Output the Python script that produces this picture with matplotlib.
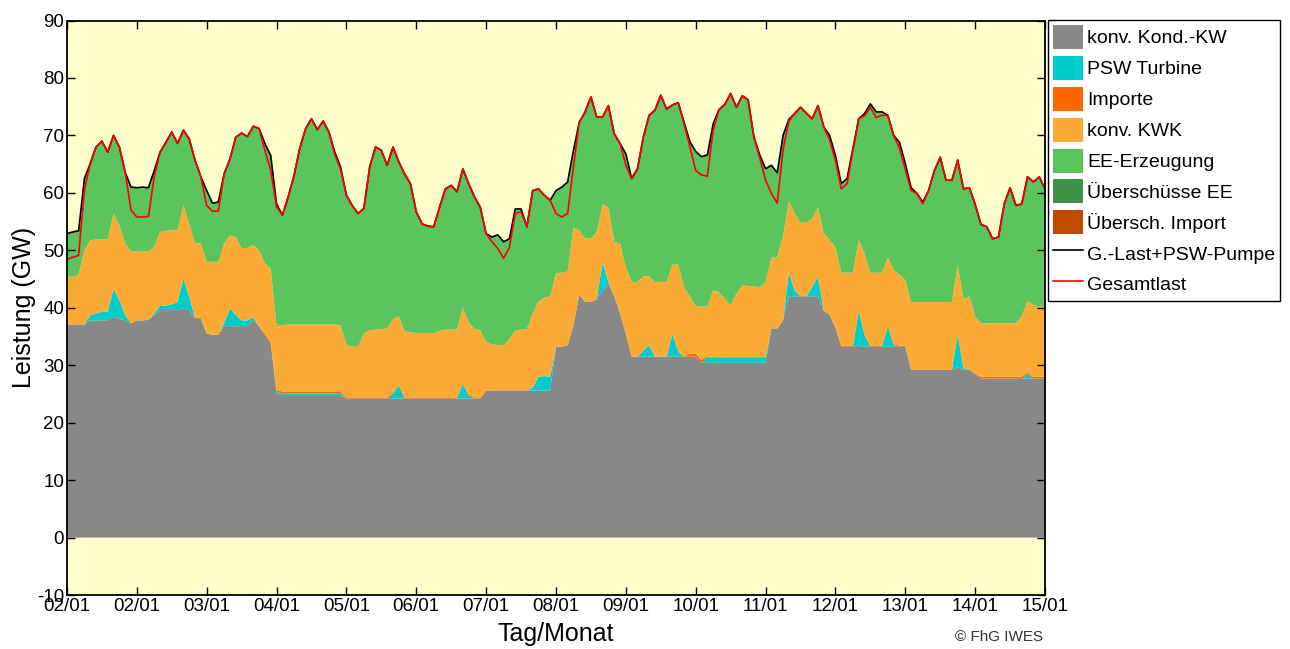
import numpy as np
import matplotlib
matplotlib.use("Agg")
from matplotlib import pyplot as plt

plt.rcParams['font.family'] = ['Liberation Sans', 'DejaVu Sans']
plt.rcParams['axes.unicode_minus'] = False

# 2-hour steps over 14 days (h = 0 .. 336)
stunden = np.arange(0, 337, 2)
tick_labels = ["02/01", "02/01", "03/01", "04/01", "05/01", "06/01", "07/01",
               "08/01", "09/01", "10/01", "11/01", "12/01", "13/01", "14/01", "15/01"]

# G.-Last+PSW-Pumpe (GW), one row per day
last_pumpe = [
    52.9, 53.2, 53.4, 62.5, 65.1, 68.0, 69.0, 67.1, 70.0, 68.0, 63.6, 61.0,
    60.9, 61.0, 60.9, 63.9, 67.1, 68.8, 70.6, 68.6, 70.9, 69.4, 65.7, 62.8,
    60.4, 58.2, 58.4, 63.3, 65.9, 69.7, 70.4, 69.8, 71.6, 71.2, 68.6, 66.5,
    58.1, 56.1, 59.3, 63.0, 67.8, 71.2, 72.9, 71.0, 72.5, 70.6, 67.1, 64.5,
    59.6, 57.8, 56.4, 57.3, 64.5, 68.0, 67.4, 64.8, 68.0, 65.4, 63.3, 61.6,
    56.7, 54.6, 54.2, 54.1, 57.5, 60.7, 61.3, 60.2, 64.2, 61.6, 59.3, 57.5,
    52.9, 52.3, 52.7, 51.5, 52.0, 57.2, 57.2, 54.1, 60.4, 60.7, 59.6, 58.7,
    60.4, 61.0, 61.9, 67.4, 72.3, 74.1, 76.7, 73.2, 73.2, 75.2, 70.3, 68.6,
    66.8, 62.5, 64.2, 69.7, 73.5, 74.4, 77.0, 74.6, 75.3, 75.7, 72.3, 68.9,
    67.2, 66.3, 66.6, 72.0, 74.5, 75.4, 77.3, 74.9, 76.9, 76.2, 69.7, 66.6,
    64.2, 64.8, 63.5, 70.0, 72.8, 73.8, 74.9, 73.9, 72.9, 75.2, 71.5, 70.0,
    66.5, 61.6, 62.5, 67.7, 72.9, 73.8, 75.5, 74.1, 74.1, 73.5, 70.0, 68.8,
    65.1, 60.9, 59.9, 58.4, 60.4, 63.9, 66.2, 62.2, 62.2, 65.7, 60.7, 60.9,
    58.0, 54.5, 54.1, 52.0, 52.3, 58.1, 60.9, 57.8, 58.1, 62.8, 61.9, 62.8,
    60.7]

# PSW pump load (GW); Gesamtlast = last_pumpe - pumpe
pumpe = [
    4.5, 4.4, 4.3, 2.0, 0, 0, 0, 0, 0, 0, 0, 4.0,
    5.1, 5.2, 5.0, 1.0, 0, 0, 0, 0, 0, 0, 0, 0,
    2.6, 1.4, 1.6, 0, 0, 0, 0, 0, 0, 0, 1.2, 2.6,
    0.5, 0, 0, 0, 0, 0, 0, 0, 0, 0, 0.4, 0.4,
    0, 0, 0, 0, 0, 0, 0, 0, 0, 0, 0, 0,
    0, 0, 0, 0, 0, 0, 0, 0, 0, 0, 0, 0,
    0, 0.8, 2.4, 2.9, 1.5, 0.8, 0.5, 0, 0, 0, 0, 0,
    4.0, 5.2, 5.5, 2.9, 0, 0, 0, 0, 0, 0, 0, 0,
    2.0, 0, 0, 0, 0, 0, 0, 0, 0, 0, 0.3, 0.9,
    3.3, 3.2, 3.7, 1.1, 0, 0, 0, 0, 0, 0, 0, 0.5,
    2.0, 4.9, 5.3, 2.5, 0.3, 0, 0, 0, 0, 0, 0, 0.8,
    0.8, 0.9, 0.9, 0.3, 0, 0.4, 0.6, 1.0, 0.6, 0, 0, 1.0,
    1.0, 0.5, 0, 0.3, 0, 0, 0, 0, 0, 0, 0, 0,
    0, 0, 0, 0, 0, 0, 0, 0, 0, 0, 0, 0,
    0]

kond = [
    37.1, 37.1, 37.1, 37.1, 37.8, 37.8, 37.8, 37.8, 38.4, 38.1, 37.8, 37.3,
    37.8, 37.8, 37.9, 38.7, 39.6, 39.6, 39.6, 39.6, 39.9, 39.6, 38.2, 38.2,
    35.5, 35.3, 35.3, 36.8, 36.8, 36.8, 36.8, 36.8, 37.9, 36.8, 35.2, 33.8,
    25.1, 24.8, 24.8, 24.8, 24.8, 24.8, 24.8, 24.8, 24.8, 24.8, 24.8, 24.8,
    24.2, 24.2, 24.2, 24.2, 24.2, 24.2, 24.2, 24.2, 24.2, 24.2, 24.2, 24.2,
    24.2, 24.2, 24.2, 24.2, 24.2, 24.2, 24.2, 24.2, 24.2, 24.2, 24.2, 24.2,
    25.6, 25.6, 25.6, 25.6, 25.6, 25.6, 25.6, 25.6, 25.6, 25.6, 25.6, 25.6,
    33.2, 33.2, 33.5, 37.0, 42.3, 41.0, 41.0, 41.5, 43.0, 44.2, 42.0, 39.0,
    35.5, 31.5, 31.5, 31.5, 31.5, 31.5, 31.5, 31.5, 31.5, 31.5, 31.5, 31.5,
    31.5, 30.4, 30.4, 30.4, 30.4, 30.4, 30.4, 30.4, 30.4, 30.4, 30.4, 30.4,
    30.4, 36.4, 36.4, 37.8, 42.0, 42.0, 42.0, 42.0, 42.0, 42.0, 39.5, 38.8,
    36.5, 33.2, 33.2, 33.2, 33.4, 33.2, 33.2, 33.2, 33.2, 33.2, 33.2, 33.2,
    33.2, 29.2, 29.2, 29.2, 29.2, 29.2, 29.2, 29.2, 29.2, 29.6, 29.2, 29.2,
    28.5, 27.7, 27.7, 27.7, 27.7, 27.7, 27.7, 27.7, 27.7, 27.7, 27.7, 27.7,
    27.7]

psw_turbine = [
    0, 0, 0, 0, 0.9, 1.2, 1.5, 1.5, 4.9, 3.2, 0.9, 0,
    0, 0, 0, 0.3, 0.7, 0.8, 1.0, 1.4, 5.2, 2.3, 0, 0,
    0, 0, 0, 0.5, 3.1, 1.9, 1.0, 1.0, 0.4, 0, 0, 0,
    0.3, 0.3, 0.3, 0.3, 0.3, 0.3, 0.3, 0.3, 0.3, 0.3, 0.3, 0.3,
    0, 0, 0, 0, 0, 0, 0, 0, 0.8, 2.2, 0, 0,
    0, 0, 0, 0, 0, 0, 0, 0, 2.5, 0.5, 0, 0,
    0, 0, 0, 0, 0, 0, 0, 0, 0.5, 2.4, 2.5, 2.4,
    0, 0, 0, 0, 0, 0, 0, 0, 4.9, 0.3, 0, 0,
    0, 0, 0, 1.0, 2.0, 0, 0, 0, 4.0, 0.8, 0, 0,
    0, 0, 0.9, 0.9, 0.9, 0.9, 0.9, 0.9, 0.9, 0.9, 0.9, 0.9,
    0.9, 0, 0, 0, 4.1, 1.0, 0, 0, 1.6, 3.4, 0, 0,
    0, 0, 0, 0, 6.0, 2.0, 0, 0, 0, 3.5, 0.3, 0,
    0, 0, 0, 0, 0, 0, 0, 0, 0, 5.7, 0.3, 0,
    0, 0, 0, 0, 0, 0, 0, 0, 0, 0.7, 0, 0,
    0]

importe = [
    0, 0, 0, 0, 0, 0, 0, 0, 0, 0, 0, 0,
    0, 0, 0, 0, 0, 0, 0, 0, 0, 0, 0, 0,
    0, 0, 0, 0, 0, 0, 0, 0, 0, 0, 0.3, 0.3,
    0.3, 0.3, 0.3, 0.3, 0.3, 0.3, 0.3, 0.3, 0.3, 0.3, 0.3, 0.3,
    0.2, 0.2, 0.2, 0.2, 0.2, 0.2, 0.2, 0.2, 0.2, 0.2, 0.2, 0.2,
    0.2, 0.2, 0.2, 0.2, 0.2, 0.2, 0.2, 0.2, 0.2, 0.2, 0.2, 0.2,
    0, 0, 0, 0, 0, 0, 0, 0, 0, 0, 0, 0,
    0, 0, 0, 0, 0, 0, 0, 0, 0, 0, 0, 0,
    0, 0, 0, 0, 0, 0, 0, 0, 0, 0, 0, 0.5,
    0.5, 0.5, 0.2, 0.2, 0.2, 0.2, 0.2, 0.2, 0.2, 0.2, 0.2, 0.2,
    0.2, 0, 0, 0, 0, 0, 0, 0, 0, 0, 0, 0,
    0.2, 0.2, 0.2, 0.2, 0.2, 0.2, 0.2, 0.2, 0.2, 0.2, 0.2, 0.2,
    0.2, 0, 0, 0, 0, 0, 0, 0, 0, 0, 0, 0,
    0, 0.3, 0.3, 0.3, 0.3, 0.3, 0.3, 0.3, 0.3, 0.3, 0.3, 0.3,
    0.3]

# upper edge of the konv. KWK band (GW)
kwk_oben = [
    45.4, 45.4, 45.7, 50.0, 51.7, 51.9, 51.9, 51.9, 56.4, 54.4, 51.2, 49.8,
    49.8, 49.8, 49.8, 50.6, 53.2, 53.4, 53.5, 53.5, 57.8, 54.6, 51.2, 51.2,
    48.0, 48.0, 48.0, 51.2, 52.6, 52.3, 50.4, 50.4, 50.9, 50.0, 47.7, 46.8,
    37.0, 37.0, 37.1, 37.1, 37.1, 37.1, 37.1, 37.1, 37.1, 37.1, 37.1, 36.9,
    33.6, 33.2, 33.2, 35.5, 36.1, 36.2, 36.3, 36.4, 38.0, 38.5, 35.9, 35.7,
    35.6, 35.6, 35.6, 35.6, 36.0, 36.2, 36.2, 36.2, 40.0, 37.5, 36.3, 36.1,
    34.0, 33.6, 33.5, 33.5, 34.5, 36.1, 36.2, 36.3, 39.0, 41.0, 41.8, 42.0,
    46.0, 46.1, 46.3, 54.0, 53.5, 52.1, 52.0, 53.2, 58.0, 57.5, 51.5, 51.2,
    47.0, 44.5, 44.5, 45.5, 45.5, 44.5, 44.5, 44.5, 47.5, 47.5, 43.5, 42.0,
    40.3, 40.2, 40.2, 43.0, 42.7, 41.5, 40.4, 42.5, 43.9, 43.8, 43.7, 43.6,
    44.5, 48.7, 48.8, 52.5, 58.5, 56.4, 54.8, 54.8, 55.5, 57.5, 53.0, 51.8,
    50.5, 46.1, 46.1, 46.1, 51.8, 49.5, 46.1, 46.1, 46.1, 48.8, 46.5, 45.8,
    44.8, 41.0, 41.0, 41.0, 41.0, 41.0, 41.0, 41.0, 41.0, 47.5, 41.5, 42.0,
    38.5, 37.3, 37.3, 37.3, 37.3, 37.3, 37.3, 37.3, 38.5, 41.2, 40.5, 40.2,
    40.4]

kond = np.array(kond)
psw_turbine = np.array(psw_turbine)
importe = np.array(importe)
kwk_oben = np.array(kwk_oben)
last_pumpe = np.array(last_pumpe)
gesamtlast = last_pumpe - np.array(pumpe)

kwk = np.clip(kwk_oben - kond - psw_turbine - importe, 0, None)
ee = np.clip(last_pumpe - kwk_oben, 0, None)
ueberschuss_ee = np.zeros_like(kond)
ueberschuss_imp = np.zeros_like(kond)

farben = ["#888888", "#00CCCC", "#FF6600", "#FBAA35", "#5CC45C", "#3F8F45", "#BF4B00"]
namen = ["konv. Kond.-KW", "PSW Turbine", "Importe", "konv. KWK", "EE-Erzeugung",
         "Überschüsse EE", "Übersch. Import"]

fig = plt.figure(figsize=(12.9, 6.49), dpi=100)
ax = fig.add_axes([0.0519, 0.0832, 0.7582, 0.8852])
ax.set_facecolor("#FFFFCC")

polys = ax.stackplot(stunden, kond, psw_turbine, importe, kwk, ee,
                     ueberschuss_ee, ueberschuss_imp,
                     colors=farben, labels=namen, linewidth=0)
l1, = ax.plot(stunden, last_pumpe, color="black", lw=1.2, label="G.-Last+PSW-Pumpe")
l2, = ax.plot(stunden, gesamtlast, color="red", lw=1.2, label="Gesamtlast")

ax.set_xlim(0, 336)
ax.set_ylim(-10, 90)
ax.set_xticks(np.arange(0, 337, 24))
ax.set_xticklabels(tick_labels)
ax.set_yticks(np.arange(-10, 91, 10))
ax.tick_params(direction="in", length=6, width=1, top=True, right=True,
               labelsize=13.5, pad=2, colors="black")
for sp in ax.spines.values():
    sp.set_linewidth(1.3)

ax.set_xlabel("Tag/Monat", fontsize=18, labelpad=5)
ax.set_ylabel("Leistung (GW)", fontsize=18, labelpad=1)

leg = fig.legend(polys + [l1, l2], namen + ["G.-Last+PSW-Pumpe", "Gesamtlast"],
                 loc="upper left", bbox_to_anchor=(1048 / 1290, 1 - 20 / 649),
                 bbox_transform=fig.transFigure, fontsize=14, frameon=True,
                 fancybox=False, framealpha=1, edgecolor="black",
                 handlelength=1.54, handleheight=1.52, labelspacing=0.355,
                 handletextpad=0.2, borderpad=0.26, borderaxespad=0)
leg.get_frame().set_linewidth(1.0)

fig.text(1043 / 1290, 1 - 637 / 649, "© FhG IWES", ha="right", va="center",
         fontsize=11, color="#333333")

fig.savefig("out.png", dpi=100)
